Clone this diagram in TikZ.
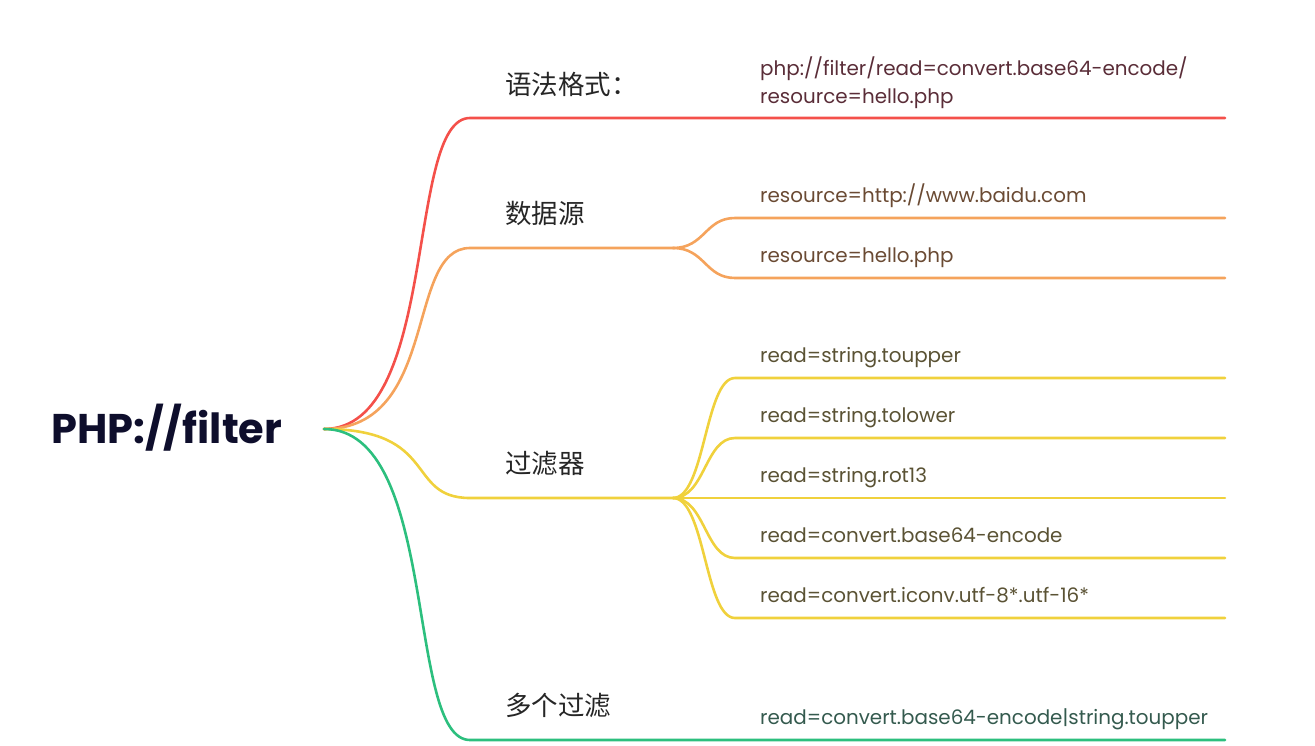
\documentclass[tikz,border=0pt]{standalone}
\usepackage{fontspec}
\setmainfont{Poppins}
\newfontfamily\cjk{Noto Sans CJK SC}
\definecolor{cRed}{HTML}{F4504A}
\definecolor{cOrange}{HTML}{F5A35C}
\definecolor{cYellow}{HTML}{F0D13C}
\definecolor{cGreen}{HTML}{2CBF7E}
\definecolor{tRed}{HTML}{5A2D38}
\definecolor{tOrange}{HTML}{6A4A33}
\definecolor{tYellow}{HTML}{5A5234}
\definecolor{tGreen}{HTML}{345A4E}
\definecolor{rootc}{HTML}{0E0E2C}
\begin{document}
\begin{tikzpicture}[x=1pt,y=-1pt,
  link/.style={line width=2.6pt, line cap=round},
  lvlone/.style={anchor=base west, inner sep=0pt, font=\cjk\fontsize{26.5}{30}\selectfont, text=black!85},
  leaf/.style={anchor=base west, inner sep=0pt, font=\fontsize{19.9}{28}\selectfont, align=left}]
\useasboundingbox (0,0) rectangle (1315,745);
% root
\node[anchor=base west, inner sep=0pt, text=rootc, font=\bfseries\fontsize{41.5}{48}\selectfont] (root) at (51,443) {PHP://filter};
\coordinate (r) at (324,429);
% branch 1: red
\coordinate (b1) at (470,118);
\coordinate (e1) at (1225,118);
\draw[link, cRed] (r) .. controls +(116,0) and +(-65,0) .. (b1) -- (e1);
\node[lvlone] (l1) at (505,94) {语法格式：};
\node[leaf, text=tRed] (t1) at (760,103) {php://filter/read=convert.base64-encode/\\resource=hello.php};
% branch 2: orange
\coordinate (b2) at (470,248);
\coordinate (s2) at (673,248);
\coordinate (c21) at (735,218);
\coordinate (c22) at (735,278);
\coordinate (e21) at (1225,218);
\coordinate (e22) at (1225,278);
\draw[link, cOrange] (r) .. controls +(116,0) and +(-65,0) .. (b2) -- (s2);
\draw[link, cOrange] (s2) .. controls +(32,0) and +(-30,0) .. (c21) -- (e21);
\draw[link, cOrange] (s2) .. controls +(32,0) and +(-30,0) .. (c22) -- (e22);
\node[lvlone] (l2) at (505,223) {数据源};
\node[leaf, text=tOrange] (t21) at (760,202) {resource=http://www.baidu.com};
\node[leaf, text=tOrange] (t22) at (760,262) {resource=hello.php};
% branch 3: yellow
\coordinate (b3) at (470,498);
\coordinate (s3) at (673,498);
\draw[link, cYellow] (r) .. controls +(116,0) and +(-65,0) .. (b3) -- (s3);
\foreach \i/\y in {1/378,2/438,3/498,4/558,5/618}{
  \coordinate (c3\i) at (735,\y);
  \coordinate (e3\i) at (1225,\y);
  \draw[link, cYellow] (s3) .. controls +(32,0) and +(-30,0) .. (c3\i) -- (e3\i);
}
\node[lvlone] (l3) at (505,473) {过滤器};
\node[leaf, text=tYellow] (t31) at (760,362) {read=string.toupper};
\node[leaf, text=tYellow] (t32) at (760,422) {read=string.tolower};
\node[leaf, text=tYellow] (t33) at (760,482) {read=string.rot13};
\node[leaf, text=tYellow] (t34) at (760,542) {read=convert.base64-encode};
\node[leaf, text=tYellow] (t35) at (760,602) {read=convert.iconv.utf-8*.utf-16*};
% branch 4: green
\coordinate (b4) at (470,740);
\coordinate (e4) at (1225,740);
\draw[link, cGreen] (r) .. controls +(116,0) and +(-65,0) .. (b4) -- (e4);
\node[lvlone] (l4) at (505,715) {多个过滤};
\node[leaf, text=tGreen] (t4) at (760,724) {read=convert.base64-encode|string.toupper};
\end{tikzpicture}
\end{document}
